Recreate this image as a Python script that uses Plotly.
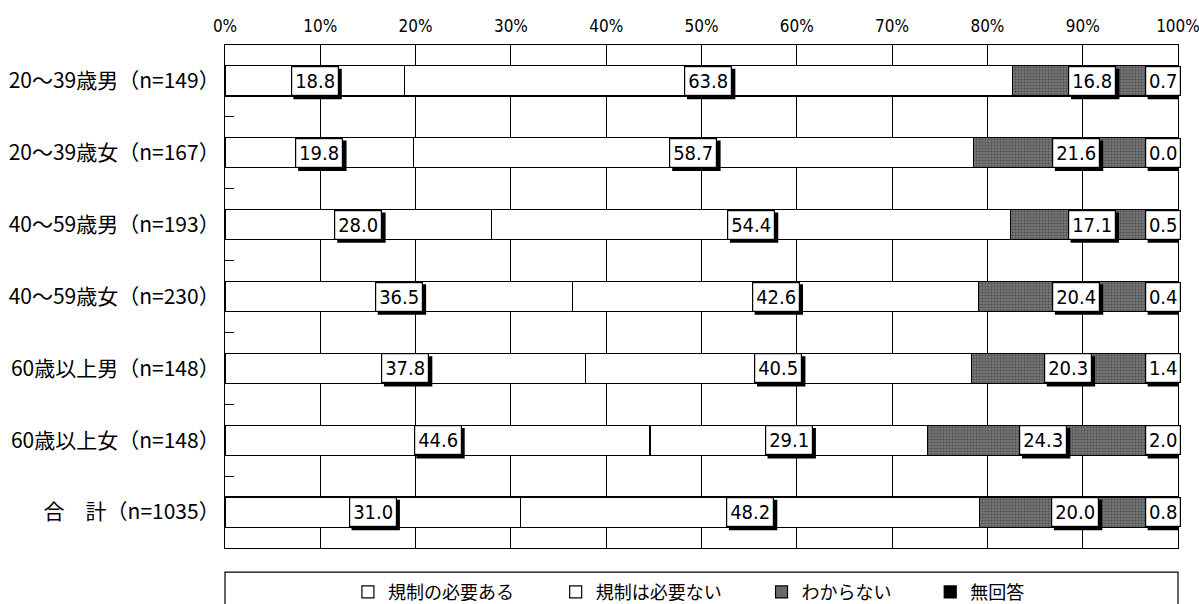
import plotly.graph_objects as go

categories = ["20～39歳男（n=149）", "20～39歳女（n=167）", "40～59歳男（n=193）",
              "40～59歳女（n=230）", "60歳以上男（n=148）", "60歳以上女（n=148）",
              "合　計（n=1035）"]
series_names = ["規制の必要ある", "規制は必要ない", "わからない", "無回答"]
need = [18.8, 19.8, 28.0, 36.5, 37.8, 44.6, 31.0]
not_need = [63.8, 58.7, 54.4, 42.6, 40.5, 29.1, 48.2]
unknown = [16.8, 21.6, 17.1, 20.4, 20.3, 24.3, 20.0]
no_answer = [0.7, 0.0, 0.5, 0.4, 1.4, 2.0, 0.8]
tick_vals = [0, 10, 20, 30, 40, 50, 60, 70, 80, 90, 100]

series = [need, not_need, unknown, no_answer]
JP = "Noto Sans CJK JP"
NARROW = "DejaVu Sans Condensed, Liberation Sans Narrow, sans-serif"

fig = go.Figure()
styles = [
    dict(color="white"),
    dict(color="white"),
    dict(color="#5e5e5e", pattern=dict(shape=".", fgcolor="#202020", bgcolor="#787878",
                                       size=3, solidity=0.4)),
    dict(color="black"),
]
legend_ids = ["legend", "legend2", "legend3", "legend4"]
for name, vals, st, lg in zip(series_names, series, styles, legend_ids):
    fig.add_trace(go.Bar(
        y=categories, x=vals, name=name, orientation="h",
        marker=dict(**st, line=dict(color="black", width=1.2)),
        width=0.42, legend=lg,
    ))

annos = []
shapes = []
H = 26
PAD = 1
BW = 1.2
for i, cat in enumerate(categories):
    cum = 0
    for k, vals in enumerate(series):
        v = vals[i]
        txt = f"{v:.1f}"
        w = 44 if len(txt) >= 4 else 32
        tot_w = w + 2 * PAD + 2 * BW
        tot_h = H + 2 * PAD + 2 * BW
        if k == 3:
            x, xa, xs = 100, "right", 3
            left = xs - tot_w
        else:
            x, xa, xs = cum + v / 2, "center", 0
            left = -tot_w / 2
        shapes.append(dict(type="rect", xref="x", yref="y", xsizemode="pixel", ysizemode="pixel",
                           xanchor=x, yanchor=i, x0=left + 3, x1=left + tot_w + 3,
                           y0=-tot_h / 2 - 3, y1=tot_h / 2 - 3,
                           fillcolor="black", line=dict(width=0), layer="above"))
        annos.append(dict(x=x, y=cat, xref="x", yref="y", text=txt, showarrow=False,
                          xanchor=xa, xshift=xs, width=w, height=H, align="center",
                          font=dict(family=NARROW, size=20, color="black"),
                          bgcolor="white", bordercolor="black", borderwidth=BW, borderpad=PAD))
        cum += v

shapes.append(dict(type="rect", xref="paper", yref="paper", x0=0, x1=1,
                   y0=-0.048, y1=-0.2, line=dict(color="black", width=1.2)))

leg_x = [0.129, 0.347, 0.563, 0.740]
leg_common = dict(orientation="h", y=-0.088, yanchor="middle", xanchor="left",
                  font=dict(family=JP, size=18, color="black"),
                  bgcolor="rgba(0,0,0,0)", itemwidth=30)
layout_legends = {lg: dict(leg_common, x=lx) for lg, lx in zip(legend_ids, leg_x)}

fig.update_layout(
    barmode="stack",
    width=1199, height=604,
    margin=dict(l=225, r=21, t=45, b=56, autoexpand=False),
    paper_bgcolor="white", plot_bgcolor="white",
    font=dict(family=JP, color="black"),
    showlegend=True,
    annotations=annos,
    shapes=shapes,
    **layout_legends,
)
fig.update_xaxes(
    side="top", range=[0, 100], tickvals=tick_vals,
    ticktext=[f"{t}%" for t in tick_vals],
    showgrid=True, gridcolor="black", gridwidth=1,
    showline=True, linecolor="black", linewidth=1.2, mirror=True,
    ticks="", tickfont=dict(family=NARROW, size=17), ticklabeloverflow="allow",
    ticklabelstandoff=5, fixedrange=True, zeroline=False,
)
fig.update_yaxes(
    autorange="reversed", showline=True, linecolor="black", linewidth=1.2, mirror=True,
    ticks="inside", tickson="boundaries", ticklen=9, tickcolor="black",
    tickfont=dict(family=JP, size=21), showgrid=False, ticklabelstandoff=0,
)
fig.write_html("out.html")
